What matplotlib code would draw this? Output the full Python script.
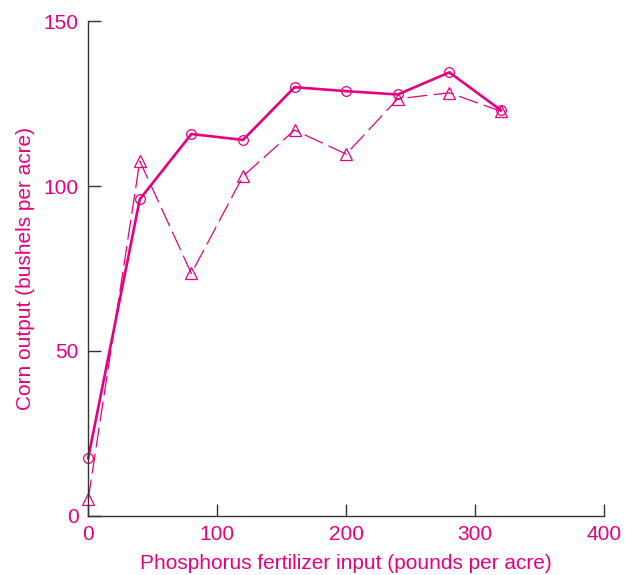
import matplotlib
matplotlib.use('Agg')
from matplotlib import pyplot as plt

plt.rcParams['font.family'] = ['Liberation Sans', 'DejaVu Sans']

pink = '#E6007E'

phosphorus = [0, 40, 80, 120, 160, 200, 240, 280, 320]
corn_circles = [17.5, 96, 115.8, 114, 130, 128.8, 127.8, 134.5, 123]
corn_triangles = [5, 107.6, 73.5, 103, 117, 109.7, 126.5, 128.3, 122.7]

x_ticks = [0, 100, 200, 300, 400]
y_ticks = [0, 50, 100, 150]

fig = plt.figure(figsize=(6.3, 5.75), dpi=100)
ax = fig.add_axes([0.14, 0.103, 0.819, 0.86])

ax.plot(phosphorus, corn_circles, color=pink, linewidth=1.9, marker='o',
        markersize=7, markerfacecolor='none', markeredgewidth=0.9, clip_on=False)
ax.plot(phosphorus, corn_triangles, color=pink, linewidth=0.9, dashes=(16, 5),
        marker='^', markersize=8, markerfacecolor='none', markeredgewidth=0.9, clip_on=False)

ax.set_xlim(0, 400)
ax.set_ylim(0, 150)
ax.set_xticks(x_ticks)
ax.set_yticks(y_ticks)
ax.spines['top'].set_visible(False)
ax.spines['right'].set_visible(False)
for s in ['left', 'bottom']:
    ax.spines[s].set_color('#333333')
    ax.spines[s].set_linewidth(1.0)
ax.tick_params(direction='in', length=9, width=1.0, color='#333333',
               labelcolor=pink, labelsize=15, pad=7)

ax.set_xlabel('Phosphorus fertilizer input (pounds per acre)', color=pink, fontsize=15, labelpad=7)
ax.set_ylabel('Corn output (bushels per acre)', color=pink, fontsize=15, labelpad=6)

plt.savefig('out.png', dpi=100)
